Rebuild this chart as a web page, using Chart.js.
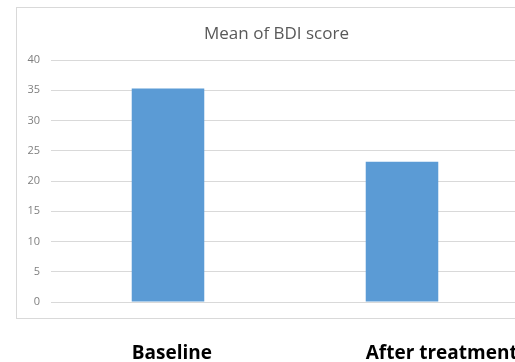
<!DOCTYPE html>
<html>
<head>
<meta charset="utf-8">
<script src="https://cdn.jsdelivr.net/npm/chart.js@4.4.1/dist/chart.umd.min.js"></script>
<style>
  html, body { margin: 0; padding: 0; background: #fff; }
  #frame { width: 515px; height: 362px; overflow: hidden; position: relative; }
</style>
</head>
<body>
<div id="frame">
  <canvas id="bdiChart" width="560" height="362"></canvas>
</div>
<script>
// data
const categories = ['Baseline', 'After treatment'];
const meanBDI = [35.3, 23.2];
const yTicks = [0, 5, 10, 15, 20, 25, 30, 35, 40];
const chartTitle = 'Mean of BDI score';

// light grey chart box (runs off the right edge in the original) with the title centred in it
const boxPlugin = {
  id: 'chartBox',
  beforeDraw(chart) {
    const ctx = chart.ctx;
    const left = 16.5, top = 7.5;
    const right = chart.width - 23.5;
    const bottom = chart.chartArea.bottom + 16.5;
    ctx.save();
    ctx.strokeStyle = '#d9d9d9';
    ctx.lineWidth = 1;
    ctx.strokeRect(left, top, right - left, bottom - top);
    ctx.font = '17px "Open Sans"';
    ctx.fillStyle = '#595959';
    ctx.textAlign = 'center';
    ctx.textBaseline = 'alphabetic';
    ctx.fillText(chartTitle, (left + right) / 2, 39);
    ctx.restore();
  }
};

// the category names sit under the box, left aligned with each bar
const catLabels = {
  id: 'catLabels',
  afterDraw(chart) {
    const ctx = chart.ctx;
    const meta = chart.getDatasetMeta(0);
    ctx.save();
    ctx.font = 'bold 19px "Open Sans"';
    ctx.fillStyle = '#000';
    ctx.textAlign = 'left';
    ctx.textBaseline = 'alphabetic';
    meta.data.forEach((bar, i) => {
      ctx.fillText(categories[i], bar.x - bar.width / 2, chart.chartArea.bottom + 57);
    });
    ctx.restore();
  }
};

new Chart(document.getElementById('bdiChart'), {
  type: 'bar',
  data: {
    labels: categories,
    datasets: [{
      data: meanBDI,
      backgroundColor: '#5b9bd5',
      categoryPercentage: 1,
      barPercentage: 0.31
    }]
  },
  options: {
    responsive: false,
    animation: false,
    layout: { padding: { left: 0, right: 41, top: 60, bottom: 0 } },
    plugins: {
      legend: { display: false },
      tooltip: { enabled: false },
      title: { display: false }
    },
    scales: {
      x: {
        ticks: { display: false },
        grid: { display: false },
        border: { display: false },
        afterFit(scale) { scale.height = 60; }
      },
      y: {
        min: 0,
        max: 40,
        afterBuildTicks(scale) { scale.ticks = yTicks.map(v => ({ value: v })); },
        ticks: {
          color: '#7f7f7f',
          font: { family: 'Open Sans', size: 11 },
          padding: 11
        },
        grid: { color: '#d9d9d9', drawTicks: false },
        border: { display: false },
        afterFit(scale) { scale.width = 51; }
      }
    }
  },
  plugins: [boxPlugin, catLabels]
});
</script>
</body>
</html>
